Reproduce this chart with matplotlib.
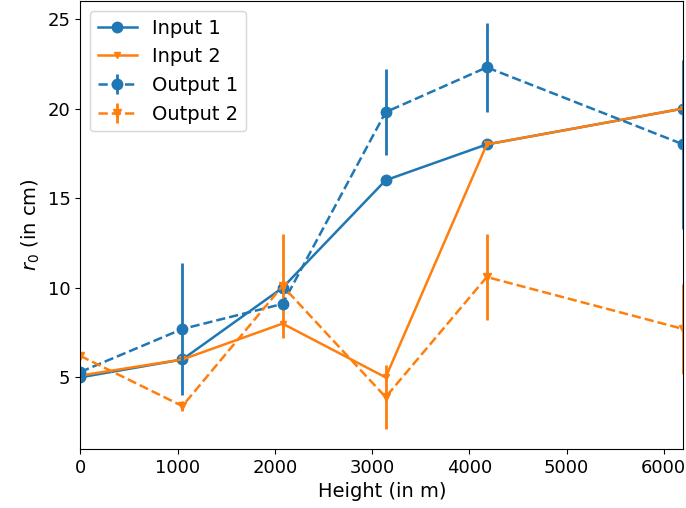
import matplotlib.pyplot as plt
import numpy as np

# heights (m)
height = [0, 1050, 2080, 3140, 4180, 6200]

input1 = [5.0, 6.0, 10.0, 16.0, 18.0, 20.0]
input2 = [5.1, 6.0, 8.0, 5.0, 18.0, 20.0]

output1 = [5.3, 7.7, 9.1, 19.8, 22.3, 18.0]
output1_err = [0.3, 3.7, 0.2, 2.4, 2.5, 4.7]

output2 = [6.2, 3.4, 10.1, 3.9, 10.6, 7.7]
output2_err = [0.2, 0.3, 2.9, 1.8, 2.4, 2.5]

plt.rcParams['font.size'] = 13

fig = plt.figure(figsize=(6.86, 5.08), dpi=100)
ax = fig.add_axes([0.117, 0.116, 0.879, 0.882])

ax.plot(height, input1, color='C0', marker='o', markersize=7.5, lw=1.8, label='Input 1')
ax.plot(height, input2, color='C1', marker='v', markersize=5, lw=1.8, label='Input 2')
ax.errorbar(height, output1, yerr=output1_err, color='C0', marker='o', markersize=7.5,
            ls='--', lw=1.8, elinewidth=2, label='Output 1')
ax.errorbar(height, output2, yerr=output2_err, color='C1', marker='v', markersize=6,
            ls='--', lw=1.8, elinewidth=2, label='Output 2')

ax.set_xlim(0, 6200)
ax.set_ylim(1, 26)
ax.set_yticks([5, 10, 15, 20, 25])
ax.set_xlabel('Height (in m)', fontsize=14)
ax.set_ylabel('$r_0$ (in cm)', fontsize=14)
ax.legend(loc='upper left', fontsize=14)

fig.savefig('out.png')
